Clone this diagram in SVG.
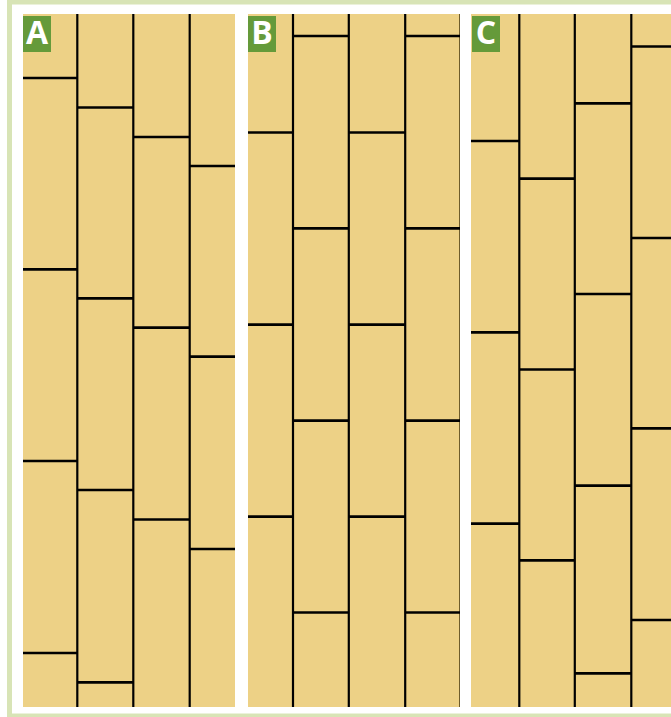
<svg xmlns="http://www.w3.org/2000/svg" width="671" height="717" viewBox="0 0 671 717">
<style>
.frame{fill:none;stroke:#d8e4b6;stroke-width:5}
.panel{fill:#edd186}
.v{stroke:#000;stroke-width:2.2}
.h{stroke:#000;stroke-width:2.7}
.edge{stroke:#6e5c2c;stroke-width:1}
.tag{fill:#659a3a}
.tagtxt{fill:#fff;font-family:"Open Sans","DejaVu Sans",sans-serif;font-weight:bold;font-size:32px;text-anchor:middle}
</style>
<rect x="0" y="0" width="671" height="717" fill="#fff"/>
<rect class="frame" x="9.5" y="2" width="700" height="714"/>

<g id="panel-A">
<rect class="panel" x="23" y="14" width="212" height="693"/>
<g id="connectors-A">
<line class="v" x1="77.3" y1="14" x2="77.3" y2="707"/>
<line class="v" x1="133.3" y1="14" x2="133.3" y2="707"/>
<line class="v" x1="189.7" y1="14" x2="189.7" y2="707"/>
<line class="h" x1="23" y1="78" x2="77.3" y2="78"/>
<line class="h" x1="23" y1="269.3" x2="77.3" y2="269.3"/>
<line class="h" x1="23" y1="461" x2="77.3" y2="461"/>
<line class="h" x1="23" y1="653" x2="77.3" y2="653"/>
<line class="h" x1="77.3" y1="107.5" x2="133.3" y2="107.5"/>
<line class="h" x1="77.3" y1="298.3" x2="133.3" y2="298.3"/>
<line class="h" x1="77.3" y1="490" x2="133.3" y2="490"/>
<line class="h" x1="77.3" y1="682.3" x2="133.3" y2="682.3"/>
<line class="h" x1="133.3" y1="137" x2="189.7" y2="137"/>
<line class="h" x1="133.3" y1="327.7" x2="189.7" y2="327.7"/>
<line class="h" x1="133.3" y1="519.5" x2="189.7" y2="519.5"/>
<line class="h" x1="189.7" y1="166" x2="235" y2="166"/>
<line class="h" x1="189.7" y1="356.7" x2="235" y2="356.7"/>
<line class="h" x1="189.7" y1="549" x2="235" y2="549"/>
</g>
<g id="label-A">
<rect class="tag" x="23" y="16" width="28" height="36"/>
<text class="tagtxt" x="37" y="43.5">A</text>
</g>
</g>

<g id="panel-B">
<rect class="panel" x="248" y="14" width="212" height="693"/>
<g id="connectors-B">
<line class="v" x1="293" y1="14" x2="293" y2="707"/>
<line class="v" x1="348.8" y1="14" x2="348.8" y2="707"/>
<line class="v" x1="405.2" y1="14" x2="405.2" y2="707"/>
<line class="edge" x1="459.5" y1="14" x2="459.5" y2="707"/>
<line class="h" x1="248" y1="132.5" x2="293" y2="132.5"/>
<line class="h" x1="248" y1="324.7" x2="293" y2="324.7"/>
<line class="h" x1="248" y1="516.7" x2="293" y2="516.7"/>
<line class="h" x1="293" y1="36" x2="348.8" y2="36"/>
<line class="h" x1="293" y1="228.3" x2="348.8" y2="228.3"/>
<line class="h" x1="293" y1="420.7" x2="348.8" y2="420.7"/>
<line class="h" x1="293" y1="612.5" x2="348.8" y2="612.5"/>
<line class="h" x1="348.8" y1="132.5" x2="405.2" y2="132.5"/>
<line class="h" x1="348.8" y1="324.7" x2="405.2" y2="324.7"/>
<line class="h" x1="348.8" y1="516.7" x2="405.2" y2="516.7"/>
<line class="h" x1="405.2" y1="36" x2="460" y2="36"/>
<line class="h" x1="405.2" y1="228.3" x2="460" y2="228.3"/>
<line class="h" x1="405.2" y1="420.7" x2="460" y2="420.7"/>
<line class="h" x1="405.2" y1="612.5" x2="460" y2="612.5"/>
</g>
<g id="label-B">
<rect class="tag" x="248" y="16" width="28" height="36"/>
<text class="tagtxt" x="262" y="43.5">B</text>
</g>
</g>

<g id="panel-C">
<rect class="panel" x="471" y="14" width="200" height="693"/>
<g id="connectors-C">
<line class="v" x1="519.3" y1="14" x2="519.3" y2="707"/>
<line class="v" x1="574.8" y1="14" x2="574.8" y2="707"/>
<line class="v" x1="631.3" y1="14" x2="631.3" y2="707"/>
<line class="h" x1="471" y1="141" x2="519.3" y2="141"/>
<line class="h" x1="471" y1="332.3" x2="519.3" y2="332.3"/>
<line class="h" x1="471" y1="523.7" x2="519.3" y2="523.7"/>
<line class="h" x1="519.3" y1="178.7" x2="574.8" y2="178.7"/>
<line class="h" x1="519.3" y1="369.5" x2="574.8" y2="369.5"/>
<line class="h" x1="519.3" y1="560.3" x2="574.8" y2="560.3"/>
<line class="h" x1="574.8" y1="103.3" x2="631.3" y2="103.3"/>
<line class="h" x1="574.8" y1="294" x2="631.3" y2="294"/>
<line class="h" x1="574.8" y1="485.7" x2="631.3" y2="485.7"/>
<line class="h" x1="574.8" y1="673.3" x2="631.3" y2="673.3"/>
<line class="h" x1="631.3" y1="46.5" x2="671" y2="46.5"/>
<line class="h" x1="631.3" y1="238" x2="671" y2="238"/>
<line class="h" x1="631.3" y1="428.3" x2="671" y2="428.3"/>
<line class="h" x1="631.3" y1="620" x2="671" y2="620"/>
</g>
<g id="label-C">
<rect class="tag" x="472" y="16" width="28" height="36"/>
<text class="tagtxt" x="486" y="43.5">C</text>
</g>
</g>
</svg>
